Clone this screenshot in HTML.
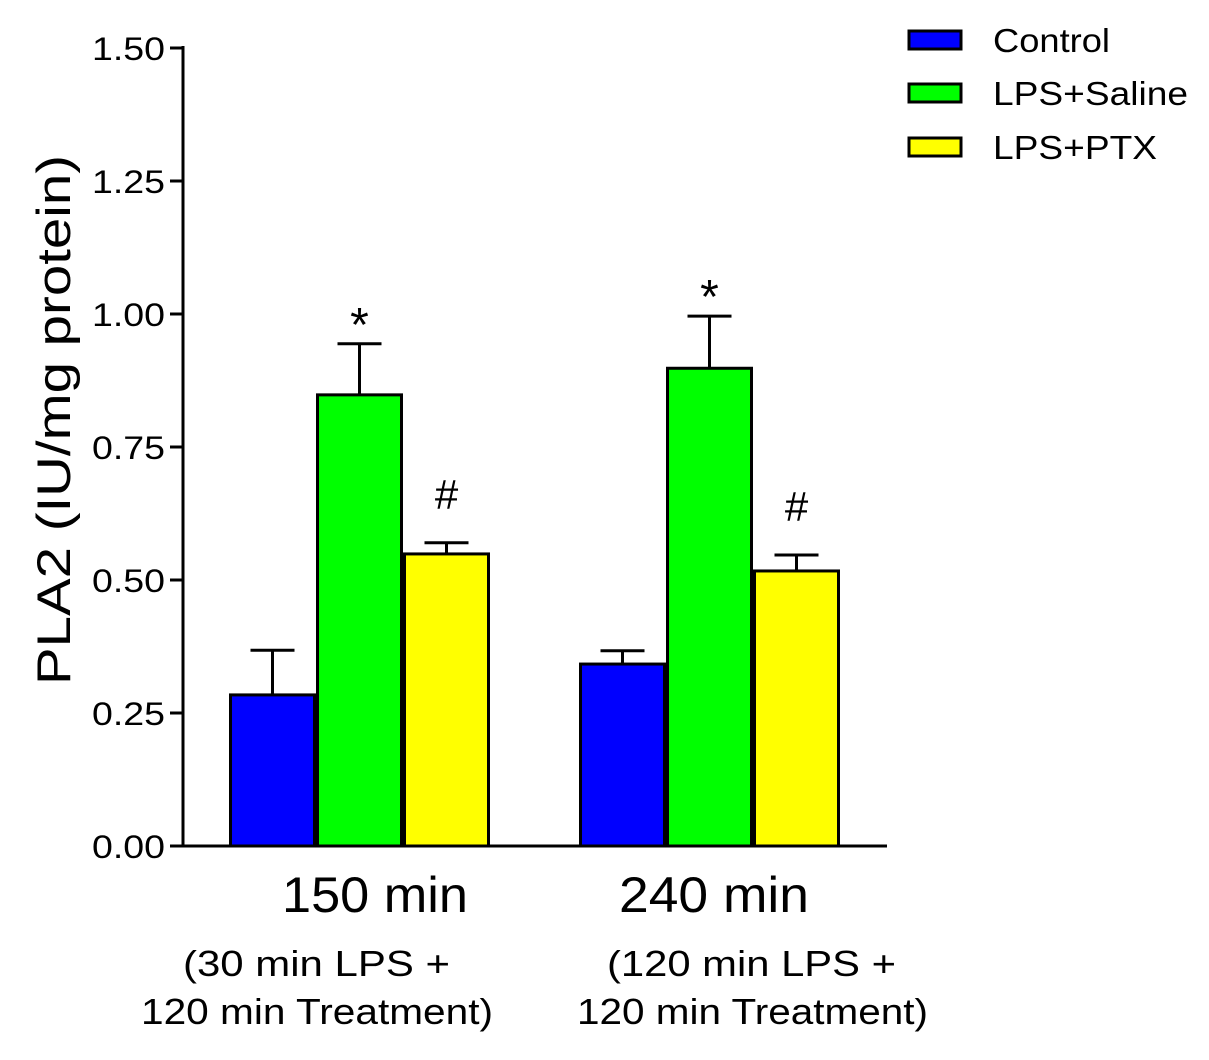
<!DOCTYPE html>
<html><head><meta charset="utf-8"><style>
body{margin:0;background:#fff;}
svg{display:block;font-family:"Liberation Sans",Arial,sans-serif;}
</style></head><body>
<svg id="chart" width="1209" height="1060"></svg>
<script>
const groups=["150 min","240 min"];
const series=["Control","LPS+Saline","LPS+PTX"];
const colors=["#0000ff","#00ff00","#ffff00"];
const controlVals=[0.284,0.342];
const salineVals=[0.848,0.898];
const ptxVals=[0.549,0.517];
const controlErr=[0.084,0.025];
const salineErr=[0.096,0.098];
const ptxErr=[0.021,0.030];
const marks=[["","*","#"],["","*","#"]];
const yTicks=[0,0.25,0.5,0.75,1.0,1.25,1.5];
const yTickLabels=["0.00","0.25","0.50","0.75","1.00","1.25","1.50"];

const NS="http://www.w3.org/2000/svg";
const svg=document.getElementById('chart');
function el(t,a,txt){const e=document.createElementNS(NS,t);for(const k in a)e.setAttribute(k,a[k]);if(txt!==undefined)e.textContent=txt;svg.appendChild(e);return e;}
const y0=846,yTop=48,yMax=1.5;
function y(v){return y0-(v/yMax)*(y0-yTop);}
const groupStart=[229,579],barW=87;
function x(g,s){return groupStart[g]+s*barW;}

const vals=[controlVals,salineVals,ptxVals];
const errs=[controlErr,salineErr,ptxErr];
for(let g=0;g<groups.length;g++){
  for(let s=0;s<3;s++){
    const v=vals[s][g],e=errs[s][g],bx=x(g,s),cx=bx+barW/2;
    let l=el('line',{x1:cx,x2:cx,y1:y(v),y2:y(v+e),stroke:'#000','stroke-width':3});
    
    
    let c=el('line',{x1:cx-22,x2:cx+22,y1:y(v+e),y2:y(v+e),stroke:'#000','stroke-width':3});
    
    
    let r=el('rect',{x:bx+1.5,y:y(v),width:barW-3,height:y0-y(v),fill:colors[s],stroke:'#000','stroke-width':3});
    
    
    if(marks[g][s]){
      const isStar=marks[g][s]==='*';
      let t=el('text',{x:cx,y:isStar?y(v+e)-3:y(v+e)-34,'font-size':isStar?48:42,'text-anchor':'middle'},marks[g][s]);
      
      
    }
  }
}
// axes
let ya=el('line',{x1:183,x2:183,y1:46,y2:y0+1.5,stroke:'#000','stroke-width':3});


let xa=el('line',{x1:181.5,x2:887,y1:y0,y2:y0,stroke:'#000','stroke-width':3});


yTicks.forEach((t,i)=>{
  let tk=el('line',{x1:170,x2:183,y1:y(t),y2:y(t),stroke:'#000','stroke-width':3});
  
  
  let lb=el('text',{x:92,y:y(t)+12,'font-size':32,textLength:73,lengthAdjust:'spacingAndGlyphs'},yTickLabels[i]);
  
  
});
let yt=el('text',{transform:'translate(70,685) rotate(-90)','font-size':47,textLength:530,lengthAdjust:'spacingAndGlyphs'},'PLA2 (IU/mg protein)');


const gx=[282,619];
const gw=[186,190];
const sub1=[["(30 min LPS +","120 min Treatment)"],["(120 min LPS +","120 min Treatment)"]];
const subx=[[183,141],[607,577]];
const subw=[[267,352],[289,351]];
groups.forEach((g,i)=>{
  let t=el('text',{x:gx[i],y:912,'font-size':50,textLength:gw[i],lengthAdjust:'spacingAndGlyphs'},g);
  
  
  sub1[i].forEach((s,j)=>{
    let u=el('text',{x:subx[i][j],y:976+j*48,'font-size':36,textLength:subw[i][j],lengthAdjust:'spacingAndGlyphs'},s);
    
    
  });
});
const legW=[117,195,164];
series.forEach((s,i)=>{
  const ly=[40,93,147][i];
  let r=el('rect',{x:909,y:ly-9,width:52,height:18,fill:colors[i],stroke:'#000','stroke-width':3});
  
  
  let t=el('text',{x:993,y:ly+12,'font-size':33,textLength:legW[i],lengthAdjust:'spacingAndGlyphs'},s);
  
  
});
</script>
</body></html>
